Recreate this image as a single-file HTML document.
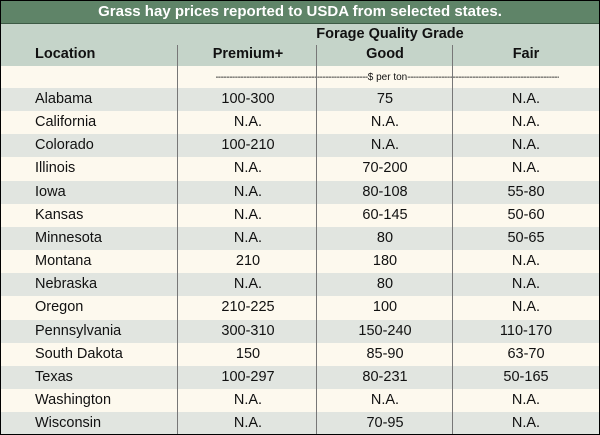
<!DOCTYPE html>
<html><head><style>
body{margin:0;width:600px;height:435px;overflow:hidden;background:#000;font-family:"Liberation Sans",sans-serif}
#wrap{position:absolute;left:1px;top:1px;width:598px;height:433px;background:#fdf9ee;overflow:hidden}
.title{position:absolute;left:0;top:0;width:598px;height:22px;background:#5f8468;color:#fff;font-weight:bold;font-size:15px;text-align:center;line-height:22px;border-bottom:1px solid #3d5a45}
.hdr{position:absolute;left:0;top:23px;width:598px;height:42px;background:#c5d4c9}
.t{position:absolute;font-size:14.5px;color:#111;white-space:nowrap}
.b{font-weight:bold}
.row{position:absolute;left:0;width:598px;height:23.15px}
.div{position:absolute;width:1px;background:#777;top:44px;bottom:0}
.units{position:absolute;left:215px;width:343px;top:70px;height:12px;display:flex;font-size:10px;color:#111;align-items:center}
.dash{flex:1;overflow:hidden;white-space:nowrap;letter-spacing:-0.5px}
</style></head><body>
<div id="wrap">
<div class="title">Grass hay prices reported to USDA from selected states.</div>
<div class="hdr"></div>
<div class="t b" style="left:0;top:25px;text-align:center;padding-left:180px;box-sizing:border-box;width:598px">Forage Quality Grade</div>
<div class="t b" style="left:34px;top:45px">Location</div>
<div class="t b" style="left:177px;width:140px;text-align:center;top:45px">Premium+</div>
<div class="t b" style="left:316px;width:136px;text-align:center;top:45px">Good</div>
<div class="t b" style="left:452px;width:146px;text-align:center;top:45px">Fair</div>
<div class="units"><span class="dash" style="direction:rtl">------------------------------------------------------------------------</span><span>$ per ton</span><span class="dash">------------------------------------------------------------------------</span></div>
<div id="rows"></div>
<div class="div" style="left:176px"></div>
<div class="div" style="left:315px"></div>
<div class="div" style="left:451px"></div>
</div>
<script>
const states=["Alabama","California","Colorado","Illinois","Iowa","Kansas","Minnesota","Montana","Nebraska","Oregon","Pennsylvania","South Dakota","Texas","Washington","Wisconsin"];
const premium=["100-300","N.A.","100-210","N.A.","N.A.","N.A.","N.A.","210","N.A.","210-225","300-310","150","100-297","N.A.","N.A."];
const good=["75","N.A.","N.A.","70-200","80-108","60-145","80","180","80","100","150-240","85-90","80-231","N.A.","70-95"];
const fair=["N.A.","N.A.","N.A.","N.A.","55-80","50-60","50-65","N.A.","N.A.","N.A.","110-170","63-70","50-165","N.A.","N.A."];
const host=document.getElementById('rows');
states.forEach((s,i)=>{
  const top=87+i*23.15;
  const r=document.createElement('div');
  r.className='row';
  r.style.top=top+'px';
  r.style.background=i%2===0?'#e1e5e0':'#fdf9ee';
  
  
  const cells=[[34,null,s],[177,140,premium[i]],[316,136,good[i]],[452,146,fair[i]]];
  cells.forEach((c,j)=>{
    const d=document.createElement('div');
    d.className='t';
    d.style.left=c[0]+'px';
    d.style.top='3px';
    if(c[1]){d.style.width=c[1]+'px';d.style.textAlign='center';}
    d.textContent=c[2];
    
    
    r.appendChild(d);
  });
  host.appendChild(r);
});
</script>
</body></html>
